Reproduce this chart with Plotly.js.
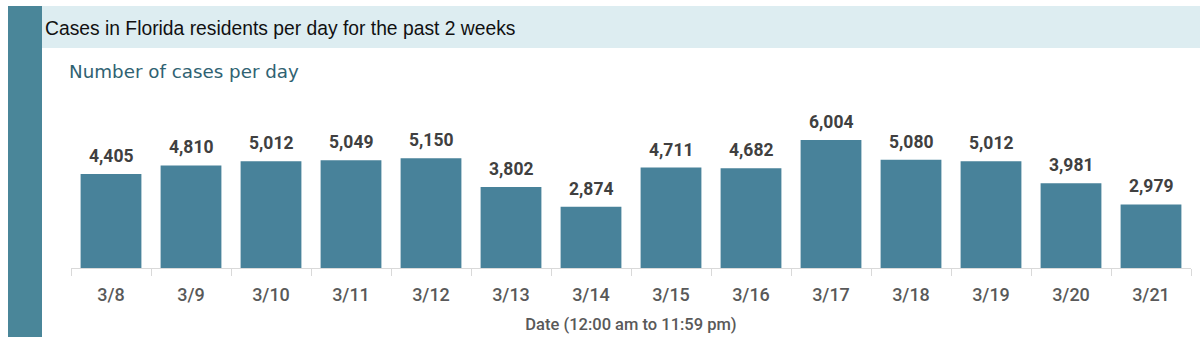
<!DOCTYPE html>
<html>
<head>
<meta charset="utf-8">
<script src="https://cdn.plot.ly/plotly-3.0.1.min.js"></script>
<style>html,body{margin:0;padding:0;background:#fff;}#chart{width:1200px;height:337px;}</style>
</head>
<body>
<div id="chart"></div>
<script>
const dates = ["3/8","3/9","3/10","3/11","3/12","3/13","3/14","3/15","3/16","3/17","3/18","3/19","3/20","3/21"];
const cases = [4405,4810,5012,5049,5150,3802,2874,4711,4682,6004,5080,5012,3981,2979];
const chartTitle = "Cases in Florida residents per day for the past 2 weeks";
const subTitle = "Number of cases per day";
const xTitle = "Date (12:00 am to 11:59 pm)";

const L = 71, R = 9, T = 119, B = 69, W = 1200, H = 337;
const pw = W - L - R, ph = H - T - B;
const px = x => (x - L) / pw;
const py = y => (H - B - y) / ph;

const trace = {
  type: 'bar',
  x: dates,
  y: cases,
  marker: {color: '#48829A'},
  hoverinfo: 'x+y'
};

const labels = dates.map((d, i) => ({
  x: d, y: cases[i], xref: 'x', yref: 'y',
  text: cases[i].toLocaleString('en-US'),
  showarrow: false, yanchor: 'bottom', yshift: 6,
  font: {family: 'Roboto, Liberation Sans, sans-serif', size: 17.5, color: '#404040', weight: 700}
}));

const layout = {
  width: W, height: H,
  margin: {l: L, r: R, t: T, b: B, pad: 0},
  paper_bgcolor: '#ffffff', plot_bgcolor: '#ffffff',
  showlegend: false,
  bargap: 0.24,
  title: {
    text: chartTitle, xref: 'container', yref: 'container',
    x: 45 / W, xanchor: 'left', y: 1 - 28 / H, yanchor: 'middle',
    font: {family: 'Liberation Sans, Arial, sans-serif', size: 19.3, color: '#111111'}
  },
  xaxis: {
    type: 'category',
    tickson: 'boundaries',
    ticks: 'outside', ticklen: 7, tickcolor: '#D9D9D9', tickwidth: 1,
    ticklabelstandoff: 10,
    showline: true, linecolor: '#D9D9D9', linewidth: 1,
    showgrid: false, zeroline: false,
    tickfont: {family: 'Roboto, Liberation Sans, sans-serif', size: 18, color: '#595959', weight: 500},
    title: {text: xTitle, standoff: 14,
      font: {family: 'Roboto, Liberation Sans, sans-serif', size: 16.5, color: '#595959', weight: 500}}
  },
  yaxis: {
    range: [0, ph / 0.02132],
    visible: false, showgrid: false, zeroline: false, fixedrange: true
  },
  shapes: [
    {type: 'rect', xref: 'paper', yref: 'paper', x0: px(42), x1: px(1200), y0: py(48), y1: py(6),
     fillcolor: '#DDEDF1', line: {width: 0}, layer: 'below'},
    {type: 'rect', xref: 'paper', yref: 'paper', x0: px(8), x1: px(42), y0: py(337), y1: py(6),
     fillcolor: '#4A8699', line: {width: 0}, layer: 'below'}
  ],
  annotations: [
    {text: subTitle, xref: 'paper', yref: 'paper', x: px(67), y: py(72), xanchor: 'left', yanchor: 'middle',
     showarrow: false, font: {family: 'DejaVu Sans, Verdana, sans-serif', size: 18.3, color: '#2F6272'}}
  ].concat(labels)
};

Plotly.newPlot('chart', [trace], layout, {displayModeBar: false, staticPlot: true});
</script>
</body>
</html>
